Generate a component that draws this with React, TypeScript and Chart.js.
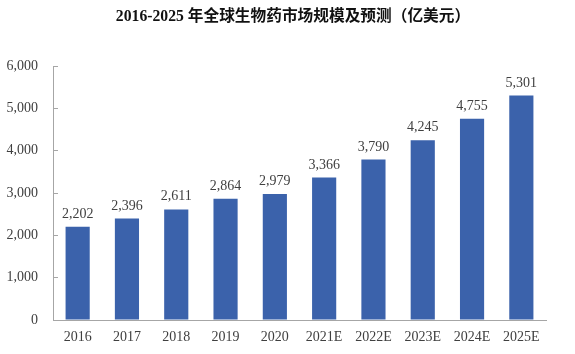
import React, { useEffect, useRef } from "react";
import { Chart, registerables } from "chart.js";

Chart.register(...registerables);

const categories = ["2016", "2017", "2018", "2019", "2020", "2021E", "2022E", "2023E", "2024E", "2025E"];
const marketSize = [2202, 2396, 2611, 2864, 2979, 3366, 3790, 4245, 4755, 5301];
const yTicks = [0, 1000, 2000, 3000, 4000, 5000, 6000];
const titleText = "2016-2025 年全球生物药市场规模及预测（亿美元）";

const SERIF = "'Liberation Serif', 'Times New Roman', 'Noto Sans CJK SC', serif";
const TEXT = "#404040";
const AXIS = "#a6a6a6";
const BAR = "#3b62ab";

const fmt = (v: number) => v.toLocaleString("en-US");

const valueLabels = {
  id: "valueLabels",
  afterDatasetsDraw(chart: any) {
    const ctx = chart.ctx;
    const meta = chart.getDatasetMeta(0);
    ctx.save();
    ctx.font = `14px ${SERIF}`;
    ctx.fillStyle = TEXT;
    ctx.textAlign = "center";
    ctx.textBaseline = "alphabetic";
    meta.data.forEach((el: any, i: number) => {
      ctx.fillText(fmt(marketSize[i]), el.x, el.y - 9);
    });
    ctx.restore();
  },
};

const titleDraw = {
  id: "titleDraw",
  afterDraw(chart: any) {
    const ctx = chart.ctx;
    ctx.save();
    ctx.font = `bold 15.7px ${SERIF}`;
    ctx.fillStyle = "#111111";
    ctx.textAlign = "center";
    ctx.textBaseline = "middle";
    ctx.fillText(titleText, 293, 17);
    ctx.restore();
  },
};

export default function App() {
  const ref = useRef<HTMLCanvasElement>(null);
  useEffect(() => {
    if (!ref.current) return;
    const chart = new Chart(ref.current, {
      type: "bar",
      data: {
        labels: categories,
        datasets: [
          {
            data: marketSize,
            backgroundColor: BAR,
            borderWidth: 0,
            categoryPercentage: 1,
            barPercentage: 0.49,
          },
        ],
      },
      options: {
        animation: false,
        responsive: false,
        devicePixelRatio: 1,
        layout: { padding: { left: 0, right: 29, top: 66, bottom: 0 } },
        plugins: {
          legend: { display: false },
          tooltip: { enabled: false },
          title: { display: false },
        },
        scales: {
          x: {
            grid: { display: false, drawTicks: false },
            border: { display: true, color: AXIS, width: 1 },
            ticks: {
              color: TEXT,
              font: { family: SERIF, size: 14 },
              padding: 9,
              maxRotation: 0,
              autoSkip: false,
            },
            afterFit: (s: any) => {
              s.height = 34;
            },
          },
          y: {
            min: 0,
            max: 6000,
            afterBuildTicks: (s: any) => {
              s.ticks = yTicks.map((v) => ({ value: v }));
            },
            grid: {
              display: true,
              drawOnChartArea: false,
              drawTicks: true,
              tickLength: -5,
              color: AXIS,
            },
            border: { display: true, color: AXIS, width: 1 },
            ticks: {
              color: TEXT,
              font: { family: SERIF, size: 14 },
              padding: 20,
              callback: (v: any) => fmt(Number(v)),
            },
            afterFit: (s: any) => {
              s.width = 53;
            },
          },
        },
      },
      plugins: [valueLabels, titleDraw],
    });
    return () => chart.destroy();
  }, []);
  return (
    <div style={{ position: "fixed", left: 0, top: 0, width: 575, height: 354, background: "#fff" }}>
      <canvas ref={ref} width={575} height={354} style={{ width: 575, height: 354, display: "block" }} />
    </div>
  );
}
